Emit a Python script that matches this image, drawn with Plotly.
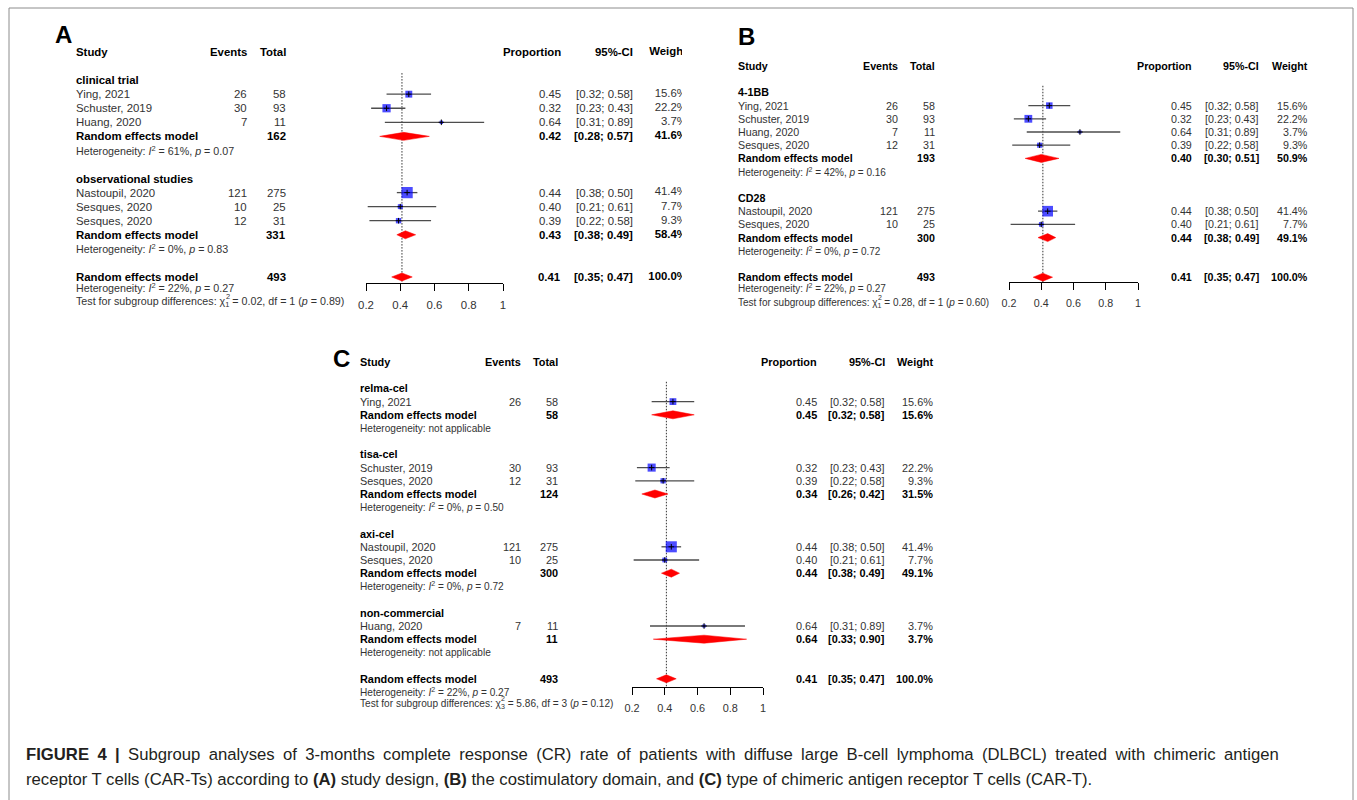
import math
import plotly.graph_objects as go

W, H = 1357, 800
FONT = "Liberation Sans, Arial, sans-serif"

# ---------------- data ----------------
study_names = ["Ying, 2021", "Schuster, 2019", "Huang, 2020", "Nastoupil, 2020", "Sesques, 2020", "Sesques, 2020"]
study_events = [26, 30, 7, 121, 10, 12]
study_totals = [58, 93, 11, 275, 25, 31]
study_prop = [0.45, 0.32, 0.64, 0.44, 0.40, 0.39]
study_lo = [0.32, 0.23, 0.31, 0.38, 0.21, 0.22]
study_hi = [0.58, 0.43, 0.89, 0.50, 0.61, 0.58]
study_weight = [15.6, 22.2, 3.7, 41.4, 7.7, 9.3]

# Panel A: study design
groups_A = ["clinical trial", "observational studies"]
members_A = [[0, 1, 2], [3, 4, 5]]
g_total_A = [162, 331]
g_prop_A = [0.42, 0.43]
g_lo_A = [0.28, 0.38]
g_hi_A = [0.57, 0.49]
g_w_A = [41.6, 58.4]
g_i2_A = [61, 0]
g_p_A = [0.07, 0.83]
test_A = (0.02, 1, 0.89)

# Panel B: costimulatory domain
groups_B = ["4-1BB", "CD28"]
members_B = [[0, 1, 2, 5], [3, 4]]
g_total_B = [193, 300]
g_prop_B = [0.40, 0.44]
g_lo_B = [0.30, 0.38]
g_hi_B = [0.51, 0.49]
g_w_B = [50.9, 49.1]
g_i2_B = [42, 0]
g_p_B = [0.16, 0.72]
test_B = (0.28, 1, 0.60)

# Panel C: type of CAR-T
groups_C = ["relma-cel", "tisa-cel", "axi-cel", "non-commercial"]
members_C = [[0], [1, 5], [3, 4], [2]]
g_total_C = [58, 124, 300, 11]
g_prop_C = [0.45, 0.34, 0.44, 0.64]
g_lo_C = [0.32, 0.26, 0.38, 0.33]
g_hi_C = [0.58, 0.42, 0.49, 0.90]
g_w_C = [15.6, 31.5, 49.1, 3.7]
g_i2_C = [None, 0, 0, None]
g_p_C = [None, 0.50, 0.72, None]
test_C = (5.86, 3, 0.12)

overall_total = 493
overall_prop, overall_lo, overall_hi, overall_w = 0.41, 0.35, 0.47, 100.0
overall_i2, overall_p = 22, 0.27

tick_vals = [0.2, 0.4, 0.6, 0.8, 1.0]
tick_text = ["0.2", "0.4", "0.6", "0.8", "1"]

caption_1_words = ["<b>FIGURE", "4", "|</b>", "Subgroup", "analyses", "of", "3-months", "complete", "response",
                   "(CR)", "rate", "of", "patients", "with", "diffuse", "large", "B-cell", "lymphoma",
                   "(DLBCL)", "treated", "with", "chimeric", "antigen"]
caption_2 = ("receptor T cells (CAR-Ts) according to <b>(A)</b> study design, <b>(B)</b> the costimulatory domain, "
             "and <b>(C)</b> type of chimeric antigen receptor T cells (CAR-T).")

# ---------------- layout geometry (pixels) ----------------
panels = [
    dict(key="A", ax="", tax="5", groups=groups_A, members=members_A, tot=g_total_A, prop=g_prop_A, lo=g_lo_A,
         hi=g_hi_A, w=g_w_A, i2=g_i2_A, p=g_p_A, test=test_A,
         letter=(63, 35), header=52, sp=14.06, axis=283, x0=366, x1=503,
         c_study=75, c_events=248, c_total=287, c_prop=562, c_ci=634, c_w=687, clip=682,
         fs=11.4, fh=10.7, het_off=0.78, test_off=1.78, k=1.75),
    dict(key="B", ax="2", tax="6", groups=groups_B, members=members_B, tot=g_total_B, prop=g_prop_B, lo=g_lo_B,
         hi=g_hi_B, w=g_w_B, i2=g_i2_B, p=g_p_B, test=test_B,
         letter=(746, 36), header=66, sp=13.2, axis=282, x0=1009, x1=1138,
         c_study=737, c_events=899, c_total=936, c_prop=1193, c_ci=1260, c_w=1309, clip=None,
         fs=10.7, fh=10.0, het_off=0.83, test_off=1.95, k=1.65),
    dict(key="C", ax="3", tax="7", groups=groups_C, members=members_C, tot=g_total_C, prop=g_prop_C, lo=g_lo_C,
         hi=g_hi_C, w=g_w_C, i2=g_i2_C, p=g_p_C, test=test_C,
         letter=(341, 358), header=362, sp=13.2, axis=687, x0=632, x1=763,
         c_study=359, c_events=522, c_total=559, c_prop=818, c_ci=886, c_w=934, clip=None,
         fs=10.9, fh=10.1, het_off=0.98, test_off=1.9, k=1.72),
]

fig = go.Figure()
annotations = []
layout_axes = {}

REG = "#333333"
BLK = "#000000"


def ann(xpx, y, yref, text, anchor, size, color=REG, yshift=0):
    annotations.append(dict(x=xpx / W, xref="paper", y=y, yref=yref, text=text, xanchor=anchor,
                            yanchor="middle", showarrow=False, yshift=yshift, borderpad=0,
                            font=dict(size=size, color=color, family=FONT)))


def het_text(i2, p):
    if i2 is None:
        return "Heterogeneity: not applicable"
    return f"Heterogeneity: <i>I</i><sup>2</sup> = {i2}%, <i>p</i> = {p:.2f}"


for P in panels:
    ax = P["ax"]
    xa, ya = "x" + ax, "y" + ax
    tya = "y" + P["tax"]
    sp = P["sp"]
    r_axis = (P["axis"] - P["header"]) / sp
    layout_axes["xaxis" + ax] = dict(domain=[P["x0"] / W, P["x1"] / W], range=[0.2, 1.0], anchor=ya,
                                     tickvals=tick_vals, ticktext=tick_text, showline=True, linecolor="black",
                                     linewidth=1, ticks="outside", ticklen=7, tickcolor="black", tickwidth=1,
                                     showgrid=False, zeroline=False, fixedrange=True, ticklabelstandoff=4,
                                     tickfont=dict(size=P["fs"], color=REG, family=FONT))
    layout_axes["yaxis" + ax] = dict(domain=[1 - P["axis"] / H, 1 - (P["header"] - sp) / H],
                                     range=[r_axis, -1], anchor=xa, visible=False, fixedrange=True)
    # text axis: same row spacing, taller span so rows below the x-axis stay in range
    n_rows = 3 + sum(len(m) + 4 for m in P["members"]) + 3
    layout_axes["xaxis" + P["tax"]] = dict(domain=[0, 1], range=[0, 1], anchor=tya, visible=False,
                                           fixedrange=True)
    layout_axes["yaxis" + P["tax"]] = dict(domain=[1 - (P["header"] + n_rows * sp) / H,
                                                   1 - (P["header"] - 2 * sp) / H],
                                           range=[n_rows, -2], anchor="x" + P["tax"], visible=False,
                                           fixedrange=True)

    fs, fh = P["fs"], P["fh"]
    # header
    ann(P["c_study"], 0, tya, "<b>Study</b>", "left", fs, BLK)
    ann(P["c_events"], 0, tya, "<b>Events</b>", "right", fs, BLK)
    ann(P["c_total"], 0, tya, "<b>Total</b>", "right", fs, BLK)
    ann(P["c_prop"], 0, tya, "<b>Proportion</b>", "right", fs, BLK)
    ann(P["c_ci"], 0, tya, "<b>95%-CI</b>", "right", fs, BLK)
    clip_rows, clip_txt = [], []
    if P["clip"] is None:
        ann(P["c_w"], 0, tya, "<b>Weight</b>", "right", fs, BLK)
    else:
        clip_rows.append(0)
        clip_txt.append("<b>Weight</b>")

    ci_x, ci_y, sq_x, sq_y, sq_s = [], [], [], [], []
    diamonds = []
    r = 2
    for gi, gname in enumerate(P["groups"]):
        ann(P["c_study"], r, tya, f"<b>{gname}</b>", "left", fs, BLK)
        r += 1
        for si in P["members"][gi]:
            ann(P["c_study"], r, tya, study_names[si], "left", fs)
            ann(P["c_events"], r, tya, str(study_events[si]), "right", fs)
            ann(P["c_total"], r, tya, str(study_totals[si]), "right", fs)
            ann(P["c_prop"], r, tya, f"{study_prop[si]:.2f}", "right", fs)
            ann(P["c_ci"], r, tya, f"[{study_lo[si]:.2f}; {study_hi[si]:.2f}]", "right", fs)
            wtxt = f"{study_weight[si]:.1f}%"
            if P["clip"] is None:
                ann(P["c_w"], r, tya, wtxt, "right", fs)
            else:
                clip_rows.append(r)
                clip_txt.append(wtxt)
            ci_x += [study_lo[si], study_hi[si], None]
            ci_y += [r, r, None]
            sq_x.append(study_prop[si])
            sq_y.append(r)
            sq_s.append(P["k"] * math.sqrt(study_weight[si]))
            r += 1
        ann(P["c_study"], r, tya, "<b>Random effects model</b>", "left", fs, BLK)
        ann(P["c_total"], r, tya, f"<b>{P['tot'][gi]}</b>", "right", fs, BLK)
        ann(P["c_prop"], r, tya, f"<b>{P['prop'][gi]:.2f}</b>", "right", fs, BLK)
        ann(P["c_ci"], r, tya, f"<b>[{P['lo'][gi]:.2f}; {P['hi'][gi]:.2f}]</b>", "right", fs, BLK)
        wtxt = f"<b>{P['w'][gi]:.1f}%</b>"
        if P["clip"] is None:
            ann(P["c_w"], r, tya, wtxt, "right", fs, BLK)
        else:
            clip_rows.append(r)
            clip_txt.append(wtxt)
        diamonds.append((P["lo"][gi], P["prop"][gi], P["hi"][gi], r))
        r += 1
        ann(P["c_study"], r, tya, het_text(P["i2"][gi], P["p"][gi]), "left", fh)
        r += 2
    # overall
    ann(P["c_study"], r, tya, "<b>Random effects model</b>", "left", fs, BLK)
    ann(P["c_total"], r, tya, f"<b>{overall_total}</b>", "right", fs, BLK)
    ann(P["c_prop"], r, tya, f"<b>{overall_prop:.2f}</b>", "right", fs, BLK)
    ann(P["c_ci"], r, tya, f"<b>[{overall_lo:.2f}; {overall_hi:.2f}]</b>", "right", fs, BLK)
    wtxt = f"<b>{overall_w:.1f}%</b>"
    if P["clip"] is None:
        ann(P["c_w"], r, tya, wtxt, "right", fs, BLK)
    else:
        clip_rows.append(r)
        clip_txt.append(wtxt)
    diamonds.append((overall_lo, overall_prop, overall_hi, r))
    ann(P["c_study"], r + P["het_off"], tya, het_text(overall_i2, overall_p), "left", fh)
    chi, df, pt = P["test"]
    ann(P["c_study"], r + P["test_off"], tya,
        f"Test for subgroup differences: χ<sub>{df}</sub> = {chi:.2f}, df = {df} (<i>p</i> = {pt:.2f})",
        "left", fh)
    # superscript 2 stacked above the subscript df (Arial advance widths, em units)
    chi2_x = P["c_study"] + fh * (13.562 + 0.52 + 0.7 * 0.556 / 2)
    ann(chi2_x, r + P["test_off"], tya, "2", "center", fh * 0.7, REG, yshift=5)

    # panel letter
    annotations.append(dict(x=P["letter"][0] / W, xref="paper", y=1 - P["letter"][1] / H, yref="paper",
                            text=f"<b>{P['key']}</b>", xanchor="center", yanchor="middle", showarrow=False,
                            font=dict(size=24, color="black", family=FONT)))

    # reference dotted line at overall estimate
    fig.add_trace(go.Scatter(x=[overall_prop, overall_prop], y=[1.5, r_axis], xaxis=xa, yaxis=ya,
                             mode="lines", line=dict(color="#333333", width=1, dash="1.5px,1.5px"),
                             hoverinfo="skip", showlegend=False, cliponaxis=False))
    # CI lines
    fig.add_trace(go.Scatter(x=ci_x, y=ci_y, xaxis=xa, yaxis=ya, mode="lines",
                             line=dict(color="#4d4d4d", width=1.3), hoverinfo="skip",
                             showlegend=False, cliponaxis=False))
    # squares
    fig.add_trace(go.Scatter(x=sq_x, y=sq_y, xaxis=xa, yaxis=ya, mode="markers",
                             marker=dict(symbol="square", size=sq_s, color="#0000ff", line=dict(width=0)),
                             showlegend=False, cliponaxis=False))
    fig.add_trace(go.Scatter(x=sq_x, y=sq_y, xaxis=xa, yaxis=ya, mode="markers",
                             marker=dict(symbol="cross-thin", size=4, color="black",
                                         line=dict(width=1, color="black")),
                             showlegend=False, cliponaxis=False, hoverinfo="skip"))
    # diamonds
    hh = 4.0 / sp
    for lo, est, hi, row in diamonds:
        fig.add_trace(go.Scatter(x=[lo, est, hi, est, lo], y=[row, row - hh, row, row + hh, row],
                                 xaxis=xa, yaxis=ya, mode="lines", fill="toself", fillcolor="#ff0000",
                                 line=dict(color="#ff0000", width=0.5), showlegend=False,
                                 hoverinfo="skip", cliponaxis=False))

    # clipped weight column (panel A is cut off at its right edge)
    if P["clip"] is not None:
        layout_axes["xaxis4"] = dict(domain=[600 / W, P["clip"] / W], range=[600, P["clip"]], anchor="y4",
                                     visible=False, fixedrange=True)
        top_px = P["header"] - 1.5 * sp
        bot_px = P["header"] + 18.5 * sp
        layout_axes["yaxis4"] = dict(domain=[1 - bot_px / H, 1 - top_px / H], range=[18.5, -1.5],
                                     anchor="x4", visible=False, fixedrange=True)
        fig.add_trace(go.Scatter(x=[P["c_w"]] * len(clip_rows), y=clip_rows, xaxis="x4", yaxis="y4",
                                 mode="text", text=clip_txt, textposition="middle left",
                                 textfont=dict(size=fs, color=[BLK if t.startswith("<b>") else REG
                                                               for t in clip_txt], family=FONT),
                                 showlegend=False, hoverinfo="skip", cliponaxis=True))

# caption (first line justified to the full width: wider en-spaces between words)
caption_1 = "\u2002".join(caption_1_words)
annotations.append(dict(x=25 / W, xref="paper", y=1 - 754 / H, yref="paper", text=caption_1,
                        xanchor="left", yanchor="middle", showarrow=False, borderpad=0,
                        font=dict(size=16.7, color="#231f20", family=FONT)))
annotations.append(dict(x=25 / W, xref="paper", y=1 - 779 / H, yref="paper", text=caption_2,
                        xanchor="left", yanchor="middle", showarrow=False, borderpad=0,
                        font=dict(size=16.7, color="#231f20", family=FONT)))

fig.update_layout(
    width=W, height=H, margin=dict(l=0, r=0, t=0, b=0, pad=0, autoexpand=False),
    paper_bgcolor="white", plot_bgcolor="rgba(0,0,0,0)",
    showlegend=False, annotations=annotations,
    shapes=[dict(type="rect", xref="paper", yref="paper", x0=9 / W, x1=1353 / W, y0=-0.05, y1=1 - 8 / H,
                 line=dict(color="#8c8c8c", width=1), fillcolor="rgba(0,0,0,0)")],
    **layout_axes,
)

fig.write_html("out.html", config={"displayModeBar": False},
               post_script="document.body.style.margin='0';document.body.style.overflow='hidden';")
